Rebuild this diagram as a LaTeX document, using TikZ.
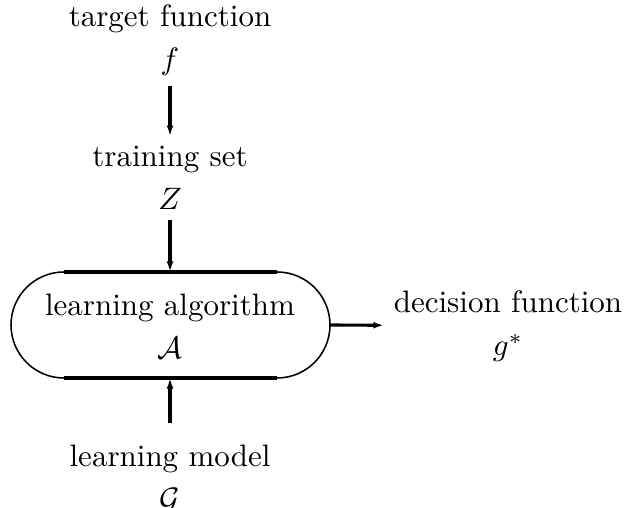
\documentclass[tikz,border=0pt]{standalone}
\usetikzlibrary{arrows.meta}
\begin{document}
\begin{tikzpicture}[x=0.01134cm, y=0.01134cm, >={Latex[length=3.4pt,width=2.2pt]},
  lbl/.style={align=center, inner sep=3pt}]
  \useasboundingbox (0,0) rectangle (625,508);
  % labels
  \node[lbl] (target) at (170,468) {target function\\[2pt] $f$};
  \node[lbl] (training) at (170,330) {training set\\[2pt] $Z$};
  \node[lbl] (algo) at (170,182) {learning algorithm\\[2pt] $\mathcal{A}$};
  \node[lbl] (model) at (170,29) {learning model\\[2pt] $\mathcal{G}$};
  \node[lbl] (decision) at (508,182) {decision function\\[2pt] $g^*$};
  % the box round the algorithm
  \coordinate (boxtop) at (170,236);
  \coordinate (boxbot) at (170,130);
  \coordinate (boxright) at (330,183);
  \draw[line width=1.1pt] (64,236) -- (277,236);
  \draw[line width=1.1pt] (64,130) -- (277,130);
  \draw[line width=0.5pt] (64,236) arc[start angle=90, end angle=270, radius=53];
  \draw[line width=0.5pt] (277,236) arc[start angle=90, end angle=-90, radius=53];
  % arrows
  \draw[->, line width=1pt] (target) -- (training);
  \draw[->, line width=1pt] (training) -- (boxtop);
  \draw[->, line width=1pt, shorten <=3.8pt] (model) -- (boxbot);
  \draw[->, line width=1pt] (boxright) -- (decision);
\end{tikzpicture}
\end{document}
